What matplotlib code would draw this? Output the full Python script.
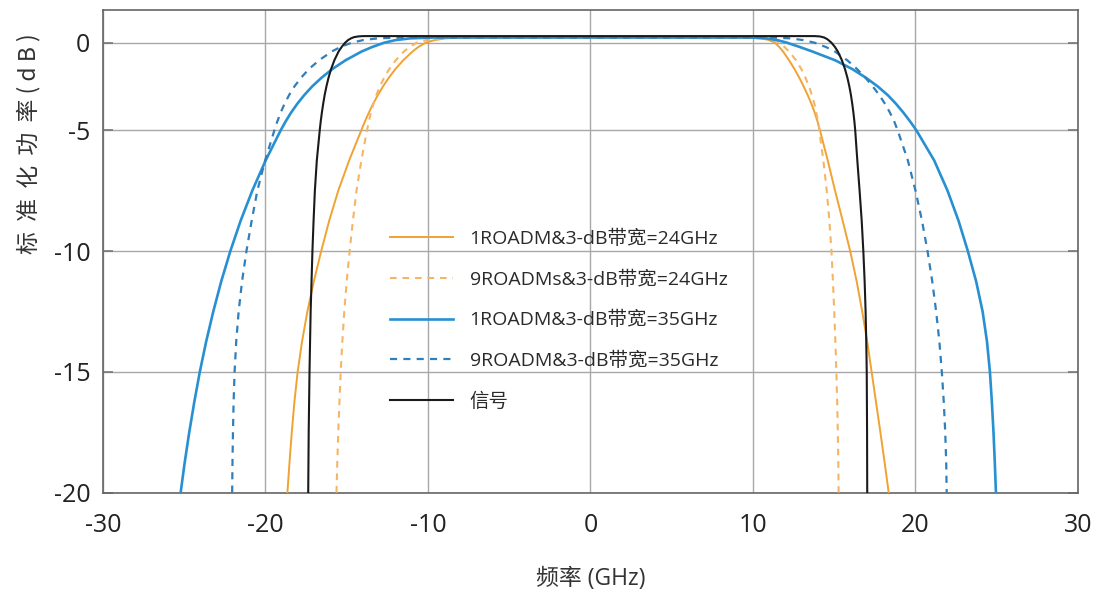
import numpy as np
import matplotlib
matplotlib.use("Agg")
import matplotlib.pyplot as plt

plt.rcParams['font.family'] = ['Open Sans', 'Noto Sans CJK SC', 'DejaVu Sans']
plt.rcParams['axes.unicode_minus'] = False

# ---- data ----
# dB levels at which the x positions of the filter edges were read (left edge: bottom -> top)
lev = [-20, -18.75, -17.5, -16.25, -15, -13.75, -12.5, -11.25, -10, -8.75, -7.5, -6.25, -5,
       -4.5, -4, -3.5, -3, -2.5, -2, -1.5, -1, -0.5, -0.25, 0, 0.15, 0.25, 0.3]
plateau = 0.3

# 1ROADM, 24 GHz (orange solid)
o1_left = [-18.65, -18.52, -18.38, -18.22, -18.02, -17.75, -17.42, -17.02, -16.57, -16.08, -15.52, -14.85, -14.1,
           -13.88, -13.64, -13.38, -13.09, -12.77, -12.41, -12.0, -11.52, -10.95, -10.6, -10.15, -9.6, -8.9, -7.8]
o1_right = [9.6, 10.5, 11.0, 11.35, 11.62, 11.85, 12.22, 12.55, 12.85, 13.12, 13.37, 13.6, 13.8, 13.97, 14.12,
            14.6, 15.05, 15.52, 15.98, 16.38, 16.72, 17.03, 17.3, 17.57, 17.84, 18.1, 18.35]
# 9ROADMs, 24 GHz (orange dashed)
o9_left = [-15.63, -15.58, -15.52, -15.45, -15.37, -15.27, -15.15, -15.0, -14.82, -14.62, -14.4, -14.1, -13.75,
           -13.64, -13.51, -13.36, -13.18, -12.96, -12.7, -12.38, -11.98, -11.48, -11.15, -10.7, -10.1, -9.3, -8.2]
o9_right = [10.2, 10.9, 11.3, 11.62, 11.95, 12.22, 12.65, 12.97, 13.23, 13.45, 13.63, 13.78, 13.9, 14.0, 14.08,
            14.33, 14.54, 14.7, 14.83, 14.92, 15.0, 15.07, 15.13, 15.18, 15.22, 15.25, 15.27]
# 1ROADM, 35 GHz (blue solid)
b1_left = [-25.22, -24.97, -24.69, -24.38, -24.04, -23.65, -23.21, -22.72, -22.16, -21.53, -20.81, -19.99, -19.06,
           -18.76, -18.43, -18.05, -17.62, -17.13, -16.55, -15.88, -15.07, -14.08, -13.45, -12.7, -12.0, -11.1, -9.6]
b1_right = [9.8, 10.8, 11.5, 12.1, 12.9, 13.65, 15.05, 16.1, 16.95, 17.68, 18.3, 18.81, 19.26, 19.67, 20.05,
            21.15, 21.97, 22.65, 23.22, 23.73, 24.13, 24.4, 24.58, 24.7, 24.8, 24.88, 24.95]
# 9ROADM, 35 GHz (blue dashed)
b9_left = [-22.05, -22.03, -22.0, -21.96, -21.9, -21.8, -21.65, -21.44, -21.17, -20.85, -20.5, -20.02, -19.45,
           -19.27, -19.07, -18.83, -18.55, -18.22, -17.81, -17.32, -16.7, -15.92, -15.4, -14.7, -14.0, -13.1, -11.6]
b9_right = [11.2, 12.3, 13.1, 13.8, 14.5, 15.04, 15.8, 16.4, 16.92, 17.37, 17.78, 18.13, 18.43, 18.69, 18.9,
            19.53, 20.0, 20.4, 20.74, 21.03, 21.27, 21.47, 21.62, 21.74, 21.83, 21.89, 21.92]
# signal (black)
sig_x = [-17.37, -17.34, -17.29, -17.22, -17.11, -17.04, -16.96, -16.84, -16.66, -16.6, -16.53, -16.45, -16.36,
         -16.25, -16.12, -15.96, -15.76, -15.5, -15.32, -15.1, -14.92, -14.74, -14.55, -14.3, -14.0, 0,
         13.8, 14.12, 14.38, 14.58, 14.83, 15.05, 15.22, 15.47, 15.66, 15.81, 15.93, 16.03, 16.11, 16.18, 16.24,
         16.29, 16.42, 16.56, 16.69, 16.79, 16.87, 16.93, 16.97, 17.0, 17.02, 17.03]
sig_y = [-20, -17.5, -15, -12.5, -10, -8.75, -7.5, -6.25, -5, -4.5, -4, -3.5, -3,
         -2.5, -2, -1.5, -1, -0.5, -0.25, 0, 0.15, 0.25, 0.32, 0.36, 0.38, 0.38,
         0.38, 0.36, 0.3, 0.2, 0, -0.25, -0.5, -1, -1.5, -2, -2.5, -3, -3.5, -4, -4.5,
         -5, -6.25, -7.5, -8.75, -10, -11.25, -12.5, -13.75, -15, -17.5, -20]

labels = ['1ROADM&3-dB带宽=24GHz', '9ROADMs&3-dB带宽=24GHz',
          '1ROADM&3-dB带宽=35GHz', '9ROADM&3-dB带宽=35GHz', '信号']
x_ticks = [-30, -20, -10, 0, 10, 20, 30]
y_ticks = [0, -5, -10, -15, -20]


def filt(left, right):
    xs = list(left) + [0.0] + list(right)
    ys = list(lev) + [plateau] + list(lev[::-1])
    return xs, ys


# ---- y scale: the 0 .. -5 dB band is compressed in the reference ----
R = 0.724
def fwd(y):
    y = np.asarray(y, dtype=float)
    return np.where(y >= -5, -5 + (y + 5) * R, y)
def inv(u):
    u = np.asarray(u, dtype=float)
    return np.where(u >= -5, -5 + (u + 5) / R, u)

fig = plt.figure(figsize=(11, 5.9), dpi=100)
ax = fig.add_axes([0.0936, 0.165, 0.8864, 0.818])
ax.set_yscale('function', functions=(fwd, inv))

c_or = '#F0A232'
c_or_d = '#F5B566'
c_bl = '#2790D2'
c_bl_d = '#2F7FBC'

ax.plot(*filt(o1_left, o1_right), color=c_or, lw=1.4, label=labels[0], zorder=3)
ax.plot(*filt(o9_left, o9_right), color=c_or_d, lw=1.5, ls=(0, (3.2, 2.8)), label=labels[1], zorder=3)
ax.plot(*filt(b1_left, b1_right), color=c_bl, lw=1.9, label=labels[2], zorder=3)
ax.plot(*filt(b9_left, b9_right), color=c_bl_d, lw=1.6, ls=(0, (3.2, 2.8)), label=labels[3], zorder=4)
ax.plot(sig_x, sig_y, color='#1a1a1a', lw=1.5, label=labels[4], zorder=5)

ax.set_xlim(-30, 30)
ax.set_ylim(-20, 1.87)
ax.set_xticks(x_ticks)
ax.set_yticks(y_ticks)
ax.set_xticklabels([str(v) for v in x_ticks])
ax.set_yticklabels([str(v) for v in y_ticks])
ax.grid(True, color='#a8a8a8', lw=1.0)
ax.set_axisbelow(True)
for s in ax.spines.values():
    s.set_color('#666666')
    s.set_linewidth(1.2)
ax.tick_params(axis='y', direction='in', length=7, width=1.2, color='#777777',
               labelsize=18, pad=9, right=True, labelcolor='#222222')
ax.tick_params(axis='x', direction='in', length=0, labelsize=18, pad=15, labelcolor='#222222')

fig.text(0.537, 0.019, '频率 (GHz)', fontsize=16.5, color='#333333', ha='center', va='center')
fig.text(0.026, 0.757, '标  准  化  功  率 ( d B )', fontsize=16.5, color='#333333',
         rotation=90, ha='center', va='center',
         family=['Noto Sans CJK SC', 'DejaVu Sans'])

leg = ax.legend(loc='upper left', bbox_to_anchor=(0.294, 0.545), frameon=False,
                fontsize=14, handlelength=3.24, handletextpad=0.87, labelspacing=1.16,
                borderpad=0, borderaxespad=0)
for t in leg.get_texts():
    t.set_color('#2a2a2a')

fig.savefig('out.png', dpi=100, facecolor='white')
